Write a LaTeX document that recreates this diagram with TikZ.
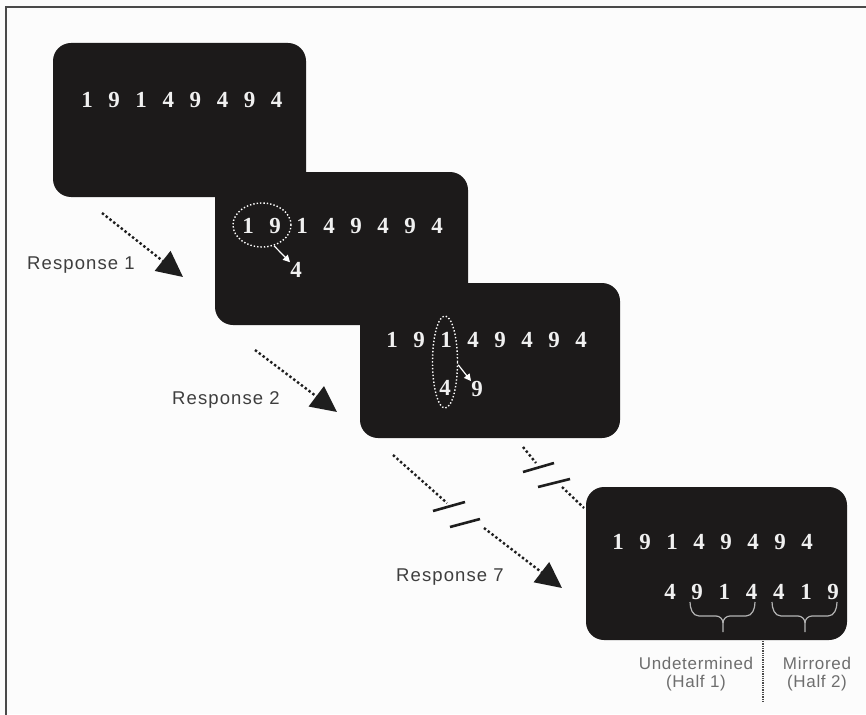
\documentclass[tikz,border=0pt]{standalone}
\usepackage{fontspec}
\setmainfont{Liberation Serif}
\newfontfamily\resplabelfont[LetterSpace=6]{Liberation Sans}
\newfontfamily\halflabelfont[LetterSpace=4]{Liberation Sans}
\usetikzlibrary{arrows.meta,shapes.geometric}
\definecolor{scr}{HTML}{1C1A1A}
\definecolor{digw}{HTML}{F0F0F0}
\definecolor{respc}{HTML}{3E3E3E}
\definecolor{halfc}{HTML}{6E6E6E}
\definecolor{flowc}{HTML}{1E1E1E}
\definecolor{framec}{HTML}{4A4A4A}
\definecolor{bracec}{HTML}{B4B4B4}
\newcommand\mybracepath[3]{%
  \draw[bracestyle] (#1,602) to[out=-90,in=180] ({#1+9},616) -- ({#3-7},616)
     to[out=0,in=90] (#3,623) -- (#3,632);
  \draw[bracestyle] (#2,602) to[out=-90,in=0] ({#2-9},616) -- ({#3+7},616)
     to[out=180,in=90] (#3,623);}
\begin{document}
\begin{tikzpicture}[x=1pt,y=-1pt,
  screen/.style={fill=scr, rounded corners=18pt, inner sep=0pt, draw=none},
  dig/.style={text=digw, font=\fontsize{23}{23}\selectfont\bfseries, inner sep=0pt},
  resp/.style={text=respc, font=\resplabelfont\fontsize{18.5}{20}\selectfont, inner sep=0pt},
  half/.style={text=halfc, font=\halflabelfont\fontsize{17}{18}\selectfont, align=center, inner sep=0pt},
  flow/.style={draw=flowc, line width=2.4pt, dash pattern=on 2.4pt off 2.4pt},
  flowarrow/.style={flow, -{Triangle[length=26pt,width=25pt]}},
  slash/.style={draw=flowc, line width=2.6pt},
  ring/.style={draw=white, ellipse, dotted, line width=1.4pt, inner sep=0pt},
  smallarrow/.style={draw=white, line width=1.2pt, -{Triangle[length=7pt,width=7pt]}},
  bracestyle/.style={draw=bracec, line width=1.2pt},
  divider/.style={draw=framec, line width=1.3pt, densely dotted}]
\useasboundingbox (0,0) rectangle (866,714);
\fill[white!99!black] (0,0) rectangle (866,714);
\draw[framec, line width=1.6pt] (6,716) -- (6,7) -- (868,7);

% screens
\node[screen, minimum width=253pt, minimum height=154pt] (s1) at (179.5,120) {};
\foreach \d [count=\i] in {1,9,1,4,9,4,9,4}
  \node[dig] (sa\i) at ({87+27.1*(\i-1)},100) {\d};

\node[screen, minimum width=253pt, minimum height=153pt] (s2) at (341.5,248.5) {};
\foreach \d [count=\i] in {1,9,1,4,9,4,9,4}
  \node[dig] (sb\i) at ({248+27*(\i-1)},226) {\d};
\node[ring, minimum width=58pt, minimum height=44pt] (e2) at (262,225) {};
\node[dig] (nb4) at (296,270) {4};
\draw[smallarrow] (e2.-60) -- (nb4.north west);

\node[screen, minimum width=260pt, minimum height=155pt] (s3) at (490,360.5) {};
\foreach \d [count=\i] in {1,9,1,4,9,4,9,4}
  \node[dig] (sc\i) at ({392+27*(\i-1)},340) {\d};
\node[ring, minimum width=25pt, minimum height=92pt] (e3) at (445,362) {};
\node[dig] (nc4) at (445,388) {4};
\node[dig] (nc9) at (477,389) {9};
\draw[smallarrow] (e3.-12) -- (nc9.north west);

\node[screen, minimum width=261pt, minimum height=153pt] (s4) at (716.5,563.5) {};
\foreach \d [count=\i] in {1,9,1,4,9,4,9,4}
  \node[dig] (sd\i) at ({618+27*(\i-1)},542) {\d};
\foreach \d [count=\i] in {4,9,1,4,4,1,9}
  \node[dig] (se\i) at ({670+27.2*(\i-1)},592) {\d};
\mybracepath{690}{755}{723}
\mybracepath{772}{837}{805}

% flow arrows
\coordinate (a1s) at (102,213); \coordinate (a1e) at (183,277);
\draw[flowarrow] (a1s) -- (a1e);
\coordinate (a2s) at (255,350); \coordinate (a2e) at (337,412);
\draw[flowarrow] (a2s) -- (a2e);
\coordinate (a3s) at (393,455); \coordinate (a3m) at (447,503);
\coordinate (a3n) at (484,528); \coordinate (a3e) at (562,588);
\draw[flow] (a3s) -- (a3m);
\draw[flowarrow] (a3n) -- (a3e);
\draw[slash] (433,511) -- (465,502);
\draw[slash] (450,527) -- (480,519);
\coordinate (a4s) at (523,447); \coordinate (a4m) at (536,463);
\coordinate (a4n) at (562,487); \coordinate (a4e) at (584,508);
\draw[flow] (a4s) -- (a4m);
\draw[flow] (a4n) -- (a4e);
\draw[slash] (523,472) -- (554,463);
\draw[slash] (538,487) -- (570,479);

% labels
\node[resp] (r1) at (81,265) {Response 1};
\node[resp] (r2) at (226,400) {Response 2};
\node[resp] (r7) at (450,577) {Response 7};
\node[half] (h1) at (696,674) {Undetermined\\(Half 1)};
\node[half] (h2) at (817,674) {Mirrored\\(Half 2)};
\coordinate (dv1) at (763,641); \coordinate (dv2) at (763,702);
\draw[divider] (dv1) -- (dv2);
\end{tikzpicture}
\end{document}
